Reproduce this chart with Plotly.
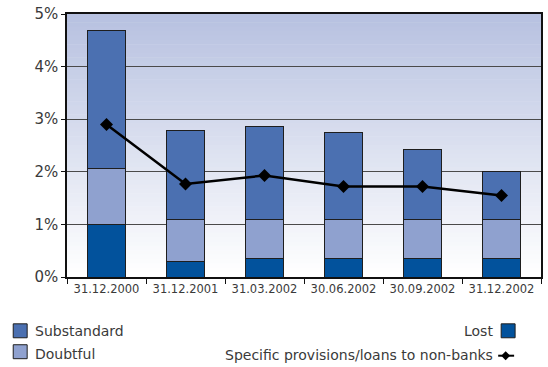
import plotly.graph_objects as go

# Quarterly asset quality, % of loans to non-banks
dates = ["31.12.2000", "31.12.2001", "31.03.2002", "30.06.2002", "30.09.2002", "31.12.2002"]
lost = [1.00, 0.30, 0.35, 0.35, 0.35, 0.35]
doubtful = [1.06, 0.80, 0.75, 0.75, 0.75, 0.75]
substandard = [2.63, 1.69, 1.77, 1.65, 1.33, 0.90]
provisions = [2.90, 1.77, 1.93, 1.72, 1.72, 1.55]

C_SUB = "#4B70B1"
C_DOUBT = "#8FA1CF"
C_LOST = "#02529C"
EDGE = "#1e1e1e"
TXT = "#3a3a3a"
FONT = "DejaVu Sans"

W, H = 548, 367
ML, MR, MT, MB = 67, 5, 13, 90
PH = H - MT - MB
PW = W - ML - MR


def px_x(px):
    return (px - ML) / PW


def px_y(py):
    return (H - MB - py) / PH


fig = go.Figure()
for name, vals, col in [("Lost", lost, C_LOST), ("Doubtful", doubtful, C_DOUBT),
                        ("Substandard", substandard, C_SUB)]:
    fig.add_trace(go.Bar(x=dates, y=vals, name=name, marker_color=col,
                         marker_line=dict(color=EDGE, width=1), width=0.48,
                         showlegend=False))

fig.add_trace(go.Scatter(x=dates, y=provisions, mode="lines+markers",
                         name="Specific provisions/loans to non-banks",
                         line=dict(color="black", width=2.5),
                         marker=dict(symbol="diamond", size=10, color="black"),
                         showlegend=False))

# vertical gradient behind the plot area
shapes = []
n = 60
top = (183, 193, 224)
bot = (255, 255, 255)
for i in range(n):
    t = i / (n - 1)
    c = tuple(round(top[k] + (bot[k] - top[k]) * t) for k in range(3))
    shapes.append(dict(type="rect", xref="x domain", yref="y domain",
                       x0=0, x1=1, y0=1 - (i + 1) / n, y1=1 - i / n + 0.002,
                       fillcolor="rgb(%d,%d,%d)" % c, line=dict(width=0),
                       layer="below"))

# legend glyphs
def square(cx, cy, col):
    shapes.append(dict(type="rect", xref="paper", yref="paper",
                       x0=px_x(cx - 7), x1=px_x(cx + 7), y0=px_y(cy + 7), y1=px_y(cy - 7),
                       fillcolor=col, line=dict(color=EDGE, width=1)))

square(20, 331, C_SUB)
square(20, 352, C_DOUBT)
square(510, 331, C_LOST)
shapes.append(dict(type="line", xref="paper", yref="paper",
                   x0=px_x(500), x1=px_x(516), y0=px_y(356), y1=px_y(356),
                   line=dict(color="black", width=2)))
shapes.append(dict(type="path", xref="paper", yref="paper",
                   path="M %f %f L %f %f L %f %f L %f %f Z" % (
                       px_x(503), px_y(356), px_x(507.5), px_y(351.5),
                       px_x(512), px_y(356), px_x(507.5), px_y(360.5)),
                   fillcolor="black", line=dict(width=0)))

annotations = []
def label(text, px, py, anchor):
    annotations.append(dict(text=text, xref="paper", yref="paper",
                            x=px_x(px), y=px_y(py), xanchor=anchor, yanchor="middle",
                            showarrow=False, font=dict(family=FONT, size=14, color=TXT)))

label("Substandard", 33, 331, "left")
label("Doubtful", 33, 354, "left")
label("Lost", 497, 331, "right")
label("Specific provisions/loans to non-banks", 497, 355, "right")

fig.update_layout(
    width=W, height=H, barmode="stack", bargap=0.52,
    margin=dict(l=ML, r=MR, t=MT, b=MB),
    paper_bgcolor="white", plot_bgcolor="rgba(0,0,0,0)",
    font=dict(family=FONT, color=TXT),
    shapes=shapes, annotations=annotations,
)
fig.update_xaxes(type="category", showline=True, linecolor="#111", linewidth=1.5,
                 mirror=True, ticks="outside", tickson="boundaries", ticklen=5,
                 tickcolor="#111", tickfont=dict(size=11.5, color=TXT), tickangle=0,
                 showgrid=False)
fig.update_yaxes(range=[0, 5], dtick=1, ticksuffix="%", showline=True,
                 linecolor="#111", linewidth=1.5, mirror=True, ticks="outside",
                 ticklen=4, tickcolor="#111", gridcolor="#4a4a4a", gridwidth=1.3,
                 tickfont=dict(size=15, color=TXT), zeroline=False)

fig.write_html("out.html")
